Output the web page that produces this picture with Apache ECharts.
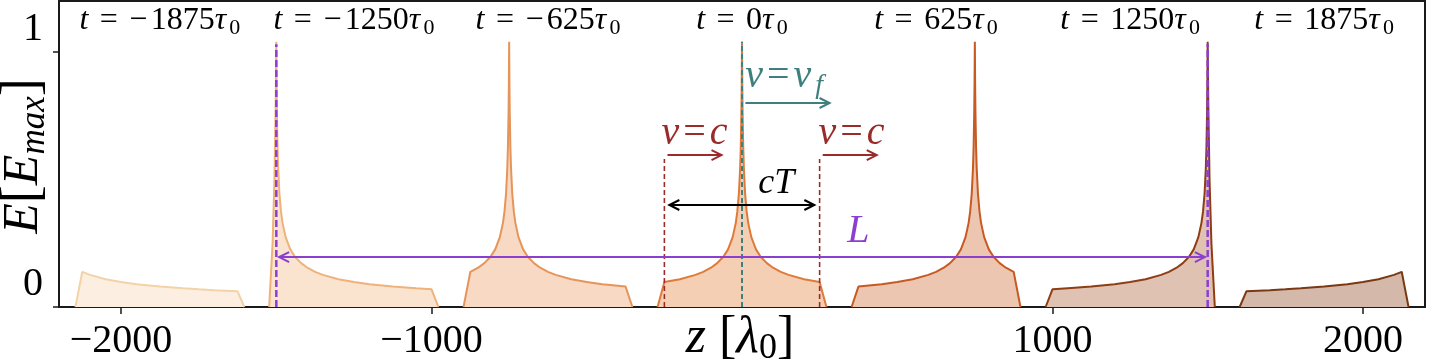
<!DOCTYPE html>
<html>
<head>
<meta charset="utf-8">
<script src="https://cdn.jsdelivr.net/npm/echarts@6/dist/echarts.min.js"></script>
<style>
html,body{margin:0;padding:0;background:#fff;}
#chart{width:1430px;height:361px;}
</style>
</head>
<body>
<div id="chart"></div>
<script>
// ---------------- data ----------------
const zTicks = [-2000, -1000, 1000, 2000];
const yTicks = [0, 1];
const tValues = [-1875, -1250, -625, 0, 625, 1250, 1875];

const pulseM1875 = [[-2147,0],[-2125,0.138],[-2100,0.126],[-2050,0.109],[-2000,0.098],[-1950,0.0895],[-1875,0.080],[-1800,0.0735],[-1750,0.0694],[-1700,0.066],[-1625,0.062],[-1603,0]];
const pulseM1250 = [[-1523,0],[-1512,0.25],[-1506,0.5],[-1502,0.8],[-1500,1.04],[-1499,0.87],[-1498,0.76],[-1496,0.625],[-1494,0.545],[-1490,0.445],[-1485,0.375],[-1480,0.33],[-1470,0.274],[-1455,0.226],[-1440,0.197],[-1420,0.172],[-1400,0.154],[-1375,0.138],[-1350,0.126],[-1300,0.109],[-1250,0.098],[-1200,0.0895],[-1125,0.080],[-1050,0.0735],[-1000,0.0694],[-978,0]];
const pulseM625 = [[-897,0],[-875,0.138],[-850,0.154],[-830,0.172],[-810,0.197],[-795,0.226],[-780,0.274],[-770,0.33],[-765,0.375],[-760,0.445],[-756,0.545],[-754,0.625],[-752,0.76],[-751,0.87],[-750,1.04],[-749,0.87],[-748,0.76],[-746,0.625],[-744,0.545],[-740,0.445],[-735,0.375],[-730,0.33],[-720,0.274],[-705,0.226],[-690,0.197],[-670,0.172],[-650,0.154],[-625,0.138],[-600,0.126],[-550,0.109],[-500,0.098],[-450,0.0895],[-375,0.080],[-353,0]];
const pulse0 = [[-272,0],[-250,0.098],[-200,0.109],[-150,0.126],[-125,0.138],[-100,0.154],[-80,0.172],[-60,0.197],[-45,0.226],[-30,0.274],[-20,0.33],[-15,0.375],[-10,0.445],[-6,0.545],[-4,0.625],[-2,0.76],[-1,0.87],[0,1.04],[1,0.87],[2,0.76],[4,0.625],[6,0.545],[10,0.445],[15,0.375],[20,0.33],[30,0.274],[45,0.226],[60,0.197],[80,0.172],[100,0.154],[125,0.138],[150,0.126],[200,0.109],[250,0.098],[272,0]];
const pulseP625 = [[353,0],[375,0.080],[450,0.0895],[500,0.098],[550,0.109],[600,0.126],[625,0.138],[650,0.154],[670,0.172],[690,0.197],[705,0.226],[720,0.274],[730,0.33],[735,0.375],[740,0.445],[744,0.545],[746,0.625],[748,0.76],[749,0.87],[750,1.04],[751,0.87],[752,0.76],[754,0.625],[756,0.545],[760,0.445],[765,0.375],[770,0.33],[780,0.274],[795,0.226],[810,0.197],[830,0.172],[850,0.154],[875,0.138],[897,0]];
const pulseP1250 = [[978,0],[1000,0.0694],[1050,0.0735],[1125,0.080],[1200,0.0895],[1250,0.098],[1300,0.109],[1350,0.126],[1375,0.138],[1400,0.154],[1420,0.172],[1440,0.197],[1455,0.226],[1470,0.274],[1480,0.33],[1485,0.375],[1490,0.445],[1494,0.545],[1496,0.625],[1498,0.76],[1499,0.87],[1500,1.04],[1502,0.8],[1506,0.5],[1512,0.25],[1523,0]];
const pulseP1875 = [[1603,0],[1625,0.062],[1700,0.066],[1750,0.0694],[1800,0.0735],[1875,0.080],[1950,0.0895],[2000,0.098],[2050,0.109],[2100,0.126],[2125,0.138],[2147,0]];

// annotation geometry (data coordinates)
const purpleDashZ = [-1500, 1500];
const purpleDashTop = 1.03;
const tealDashZ = [0];
const tealDashTop = 1.04;
const redDashZ = [-250, 250];
const redDashTop = 0.58;
const arrowL  = [-1491, 0.196, 1491, 0.196, 1];
const arrowCT = [-234, 0.40, 233, 0.40, 1];
const arrowC1 = [-240, 0.596, -66, 0.596, 0];
const arrowC2 = [260, 0.596, 434, 0.596, 0];
const arrowVf = [11, 0.80, 282, 0.80, 0];
const tLabelY = 1.125;
const posL  = [375, 0.298];
const posCT = [110, 0.486];
const posC1 = [-153, 0.682];
const posC2 = [353, 0.682];
const posVf = [136, 0.905];

// ---------------- styles ----------------
const FONT = '"Liberation Serif", "DejaVu Serif", serif';
const PURPLE = '#8a3fd0';
const TEAL = '#3f7f7e';
const RED = '#9b2b2b';
const BLACK = '#000';
const pulseStyles = [
  ['#f3d2a8', '#fcefe1'],
  ['#eeb27a', '#fbe4cf'],
  ['#e6955a', '#f8d9c3'],
  ['#de7b38', '#f4cfb4'],
  ['#c75a22', '#edc6b1'],
  ['#8e3d14', '#e0c2b3'],
  ['#7a3813', '#d4b9aa']
];
const pulses = [pulseM1875, pulseM1250, pulseM625, pulse0, pulseP625, pulseP1250, pulseP1875];

const series = [];
pulses.forEach((d, i) => {
  series.push({
    type: 'line', data: d, showSymbol: false, symbol: 'none', smooth: false,
    lineStyle: { color: pulseStyles[i][0], width: 2 },
    areaStyle: { color: pulseStyles[i][1], opacity: 1 },
    z: 2, silent: true, animation: false
  });
});

function vline(z, top, color, width, dash) {
  series.push({
    type: 'line', data: [[z, 0], [z, top]], showSymbol: false, symbol: 'none',
    lineStyle: { color: color, width: width, type: dash },
    z: 5, silent: true, animation: false
  });
}
purpleDashZ.forEach(z => vline(z, purpleDashTop, PURPLE, 2.5, [7, 3]));
tealDashZ.forEach(z => vline(z, tealDashTop, TEAL, 2, [5, 3]));
redDashZ.forEach(z => vline(z, redDashTop, RED, 1.6, [5, 3]));

function arrowSeries(arr, color) {
  series.push({
    type: 'custom', data: [arr], z: 6, silent: true, animation: false, clip: false,
    renderItem: function (params, api) {
      const a = api.coord([api.value(0), api.value(1)]);
      const b = api.coord([api.value(2), api.value(3)]);
      const both = api.value(4);
      const head = (tip, from) => {
        const dx = tip[0] - from[0], dy = tip[1] - from[1];
        const len = Math.hypot(dx, dy);
        const ux = dx / len, uy = dy / len;
        const L = 10, W = 5;
        return {
          type: 'polyline',
          shape: { points: [[tip[0] - ux * L - uy * W, tip[1] - uy * L + ux * W], [tip[0], tip[1]], [tip[0] - ux * L + uy * W, tip[1] - uy * L - ux * W]] },
          style: { stroke: color, lineWidth: 2, fill: null }
        };
      };
      const children = [
        { type: 'line', shape: { x1: a[0], y1: a[1], x2: b[0], y2: b[1] }, style: { stroke: color, lineWidth: 2 } },
        head(b, a)
      ];
      if (both) children.push(head(a, b));
      return { type: 'group', children: children };
    }
  });
}
arrowSeries(arrowL, PURPLE);
arrowSeries(arrowCT, BLACK);
arrowSeries(arrowC1, RED);
arrowSeries(arrowC2, RED);
arrowSeries(arrowVf, TEAL);

function richFor(color, size, spSize) {
  const sub = Math.round(size * 0.7);
  return {
    i: { fontStyle: 'italic', fontFamily: FONT, fontSize: size, color: color, lineHeight: size + 6 },
    n: { fontFamily: FONT, fontSize: size, color: color, lineHeight: size + 6 },
    sp: { fontFamily: FONT, fontSize: spSize, color: color, lineHeight: size + 6 },
    th: { fontFamily: FONT, fontSize: Math.round(size * 0.4), color: color, lineHeight: size + 6 },
    s: { fontFamily: FONT, fontSize: sub, color: color, verticalAlign: 'bottom', lineHeight: sub },
    si: { fontFamily: FONT, fontStyle: 'italic', fontSize: sub, color: color, verticalAlign: 'bottom', lineHeight: sub }
  };
}
function fmtT(t) {
  const sign = t < 0 ? '{n|\u2212}{th| }' : '';
  return '{i|t}{sp| }{n|=}{sp| }' + sign + '{n|' + Math.abs(t) + '}{i|\u03c4}{th| }{s|0}';
}
const labelBase = { show: true, position: 'inside', fontFamily: FONT, textBorderWidth: 0, textShadowBlur: 0, opacity: 1 };
const textData = [];
tValues.forEach(t => {
  textData.push({ value: [t, tLabelY], label: Object.assign({}, labelBase, { color: BLACK, formatter: fmtT(t), rich: richFor(BLACK, 32, 46) }) });
});
textData.push({ value: posL, label: Object.assign({}, labelBase, { color: PURPLE, formatter: '{i|L}', rich: richFor(PURPLE, 40, 10) }) });
textData.push({ value: posCT, label: Object.assign({}, labelBase, { color: BLACK, formatter: '{i|cT}', rich: richFor(BLACK, 36, 10) }) });
textData.push({ value: posC1, label: Object.assign({}, labelBase, { color: RED, formatter: '{i|v}{th| }{n|=}{th| }{i|c}', rich: richFor(RED, 40, 10) }) });
textData.push({ value: posC2, label: Object.assign({}, labelBase, { color: RED, formatter: '{i|v}{th| }{n|=}{th| }{i|c}', rich: richFor(RED, 40, 10) }) });
textData.push({ value: posVf, label: Object.assign({}, labelBase, { color: TEAL, formatter: '{i|v}{th| }{n|=}{th| }{i|v}{th| }{si|f}', rich: richFor(TEAL, 40, 10) }) });
series.push({
  type: 'scatter', data: textData, symbolSize: 0, z: 8, silent: true, animation: false,
  itemStyle: { opacity: 1 },
  label: labelBase
});

const chart = echarts.init(document.getElementById('chart'), null, { renderer: 'canvas' });
chart.setOption({
  animation: false,
  backgroundColor: '#fff',
  grid: { left: 59, right: 5, top: 1, bottom: 53, show: true, borderColor: '#1a1a1a', borderWidth: 2, backgroundColor: 'transparent' },
  xAxis: {
    type: 'value', min: -2200, max: 2200,
    axisLine: { show: true, onZero: false, lineStyle: { color: '#1a1a1a', width: 2 } },
    axisTick: { show: true, customValues: zTicks, length: 7, inside: false, lineStyle: { color: '#1a1a1a', width: 1.5 } },
    axisLabel: { customValues: zTicks, margin: 14, fontFamily: FONT, fontSize: 40, color: '#000',
      formatter: v => (v < 0 ? '\u2212' + Math.abs(v) : String(v)) },
    splitLine: { show: false }
  },
  yAxis: {
    type: 'value', min: 0, max: 1.2,
    axisLine: { show: true, onZero: false, lineStyle: { color: '#1a1a1a', width: 2 } },
    axisTick: { show: true, customValues: yTicks, length: 6, inside: false, lineStyle: { color: '#1a1a1a', width: 1.5 } },
    axisLabel: { customValues: yTicks, margin: 16, fontFamily: FONT, fontSize: 40, color: '#000', verticalAlign: 'bottom', padding: [0, 0, 3, 0] },
    splitLine: { show: false }
  },
  graphic: [
    {
      type: 'text', x: 24, y: 156, rotation: Math.PI / 2, silent: true,
      style: {
        text: '{i|E}{b|[}{e|E}{s|max}{c|]}', align: 'center', verticalAlign: 'middle',
        rich: {
          i: { fontStyle: 'italic', fontFamily: FONT, fontSize: 50, fill: '#000', lineHeight: 56 },
          e: { fontStyle: 'italic', fontFamily: FONT, fontSize: 50, fill: '#000', lineHeight: 56 },
          b: { fontFamily: FONT, fontSize: 54, fill: '#000', lineHeight: 56 },
          c: { fontFamily: FONT, fontSize: 54, fill: '#000', lineHeight: 56 },
          s: { fontStyle: 'italic', fontFamily: FONT, fontSize: 35, fill: '#000', verticalAlign: 'bottom', lineHeight: 35 }
        }
      }
    },
    {
      type: 'text', x: 740, y: 338, silent: true,
      style: {
        text: '{i|z}{n| [}{i|\u03bb}{s|0}{n|]}', align: 'center', verticalAlign: 'middle',
        rich: {
          i: { fontStyle: 'italic', fontFamily: FONT, fontSize: 52, fill: '#000', lineHeight: 58 },
          n: { fontFamily: FONT, fontSize: 52, fill: '#000', lineHeight: 58 },
          s: { fontFamily: FONT, fontSize: 36, fill: '#000', verticalAlign: 'bottom', lineHeight: 36 }
        }
      }
    }
  ],
  series: series
});
</script>
</body>
</html>
